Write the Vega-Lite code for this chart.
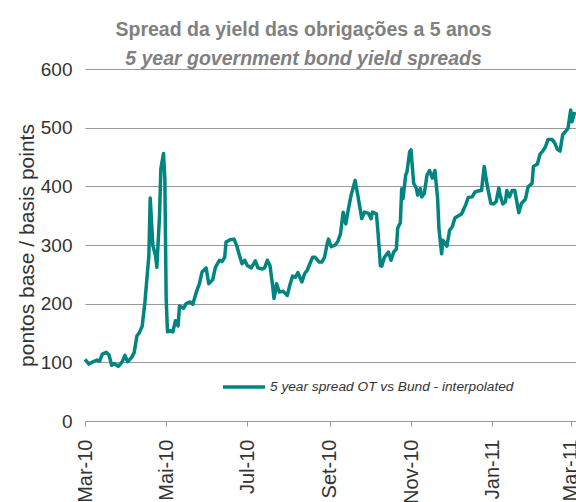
{
  "$schema": "https://vega.github.io/schema/vega-lite/v6.json",
  "width": 491,
  "height": 352,
  "autosize": {"type": "none"},
  "padding": {"left": 85, "top": 69, "right": 0, "bottom": 81},
  "background": "white",
  "title": {
    "text": "Spread da yield das obrigações a 5 anos",
    "subtitle": "5 year government bond yield spreads",
    "anchor": "middle",
    "frame": "group",
    "dx": -27,
    "offset": -9,
    "font": "Liberation Sans",
    "fontSize": 19.5,
    "fontWeight": "bold",
    "color": "#808080",
    "subtitleFont": "Liberation Sans",
    "subtitleFontSize": 19.5,
    "subtitleFontWeight": "bold",
    "subtitleFontStyle": "italic",
    "subtitleColor": "#808080",
    "subtitlePadding": 9
  },
  "data": {
    "values": [
      {"date": "2010-03-01", "bp": 105}, {"date": "2010-03-04", "bp": 97}, {"date": "2010-03-07", "bp": 101},
      {"date": "2010-03-10", "bp": 104}, {"date": "2010-03-12", "bp": 102}, {"date": "2010-03-14", "bp": 114},
      {"date": "2010-03-17", "bp": 117}, {"date": "2010-03-19", "bp": 113}, {"date": "2010-03-21", "bp": 95},
      {"date": "2010-03-23", "bp": 98}, {"date": "2010-03-26", "bp": 93}, {"date": "2010-03-29", "bp": 101},
      {"date": "2010-03-31", "bp": 112}, {"date": "2010-04-02", "bp": 101}, {"date": "2010-04-05", "bp": 108},
      {"date": "2010-04-07", "bp": 117}, {"date": "2010-04-09", "bp": 145}, {"date": "2010-04-11", "bp": 151},
      {"date": "2010-04-13", "bp": 162}, {"date": "2010-04-15", "bp": 202}, {"date": "2010-04-18", "bp": 282},
      {"date": "2010-04-19", "bp": 380}, {"date": "2010-04-21", "bp": 299}, {"date": "2010-04-23", "bp": 282},
      {"date": "2010-04-24", "bp": 262}, {"date": "2010-04-26", "bp": 350}, {"date": "2010-04-27", "bp": 430},
      {"date": "2010-04-29", "bp": 456}, {"date": "2010-04-30", "bp": 413}, {"date": "2010-05-01", "bp": 208},
      {"date": "2010-05-02", "bp": 152}, {"date": "2010-05-04", "bp": 154}, {"date": "2010-05-06", "bp": 152},
      {"date": "2010-05-08", "bp": 171}, {"date": "2010-05-10", "bp": 162}, {"date": "2010-05-11", "bp": 196},
      {"date": "2010-05-14", "bp": 192}, {"date": "2010-05-16", "bp": 200}, {"date": "2010-05-19", "bp": 203},
      {"date": "2010-05-21", "bp": 199}, {"date": "2010-05-24", "bp": 222}, {"date": "2010-05-26", "bp": 234},
      {"date": "2010-05-28", "bp": 254}, {"date": "2010-05-31", "bp": 261}, {"date": "2010-06-02", "bp": 234},
      {"date": "2010-06-05", "bp": 241}, {"date": "2010-06-07", "bp": 262}, {"date": "2010-06-10", "bp": 274},
      {"date": "2010-06-12", "bp": 272}, {"date": "2010-06-14", "bp": 279}, {"date": "2010-06-15", "bp": 305},
      {"date": "2010-06-18", "bp": 309}, {"date": "2010-06-21", "bp": 310}, {"date": "2010-06-23", "bp": 299},
      {"date": "2010-06-25", "bp": 283}, {"date": "2010-06-27", "bp": 268}, {"date": "2010-06-29", "bp": 274},
      {"date": "2010-07-01", "bp": 265}, {"date": "2010-07-04", "bp": 261}, {"date": "2010-07-07", "bp": 273},
      {"date": "2010-07-09", "bp": 261}, {"date": "2010-07-12", "bp": 259}, {"date": "2010-07-14", "bp": 261},
      {"date": "2010-07-16", "bp": 274}, {"date": "2010-07-18", "bp": 265}, {"date": "2010-07-20", "bp": 231},
      {"date": "2010-07-21", "bp": 209}, {"date": "2010-07-22", "bp": 220}, {"date": "2010-07-23", "bp": 234},
      {"date": "2010-07-25", "bp": 220}, {"date": "2010-07-28", "bp": 221}, {"date": "2010-07-31", "bp": 214},
      {"date": "2010-08-02", "bp": 232}, {"date": "2010-08-04", "bp": 247}, {"date": "2010-08-06", "bp": 245},
      {"date": "2010-08-08", "bp": 253}, {"date": "2010-08-11", "bp": 237}, {"date": "2010-08-13", "bp": 251},
      {"date": "2010-08-15", "bp": 257}, {"date": "2010-08-17", "bp": 268}, {"date": "2010-08-19", "bp": 279},
      {"date": "2010-08-21", "bp": 279}, {"date": "2010-08-24", "bp": 271}, {"date": "2010-08-26", "bp": 271},
      {"date": "2010-08-28", "bp": 279}, {"date": "2010-08-30", "bp": 302}, {"date": "2010-08-31", "bp": 310},
      {"date": "2010-09-02", "bp": 297}, {"date": "2010-09-05", "bp": 300}, {"date": "2010-09-07", "bp": 306},
      {"date": "2010-09-09", "bp": 319}, {"date": "2010-09-11", "bp": 356}, {"date": "2010-09-13", "bp": 336},
      {"date": "2010-09-15", "bp": 362}, {"date": "2010-09-17", "bp": 385}, {"date": "2010-09-20", "bp": 410},
      {"date": "2010-09-22", "bp": 385}, {"date": "2010-09-25", "bp": 345}, {"date": "2010-09-27", "bp": 356},
      {"date": "2010-09-30", "bp": 354}, {"date": "2010-10-02", "bp": 345}, {"date": "2010-10-03", "bp": 356},
      {"date": "2010-10-06", "bp": 353}, {"date": "2010-10-07", "bp": 327}, {"date": "2010-10-09", "bp": 265},
      {"date": "2010-10-10", "bp": 264}, {"date": "2010-10-12", "bp": 279}, {"date": "2010-10-15", "bp": 288},
      {"date": "2010-10-17", "bp": 274}, {"date": "2010-10-19", "bp": 288}, {"date": "2010-10-21", "bp": 293},
      {"date": "2010-10-22", "bp": 329}, {"date": "2010-10-24", "bp": 338}, {"date": "2010-10-25", "bp": 396},
      {"date": "2010-10-26", "bp": 379}, {"date": "2010-10-28", "bp": 419}, {"date": "2010-10-29", "bp": 425},
      {"date": "2010-10-31", "bp": 459}, {"date": "2010-11-01", "bp": 462}, {"date": "2010-11-03", "bp": 405},
      {"date": "2010-11-05", "bp": 397}, {"date": "2010-11-06", "bp": 385}, {"date": "2010-11-08", "bp": 396},
      {"date": "2010-11-09", "bp": 382}, {"date": "2010-11-11", "bp": 388}, {"date": "2010-11-13", "bp": 419},
      {"date": "2010-11-15", "bp": 427}, {"date": "2010-11-17", "bp": 414}, {"date": "2010-11-19", "bp": 427},
      {"date": "2010-11-21", "bp": 379}, {"date": "2010-11-22", "bp": 328}, {"date": "2010-11-24", "bp": 285},
      {"date": "2010-11-25", "bp": 308}, {"date": "2010-11-28", "bp": 298}, {"date": "2010-11-30", "bp": 325},
      {"date": "2010-12-02", "bp": 331}, {"date": "2010-12-04", "bp": 346}, {"date": "2010-12-06", "bp": 349},
      {"date": "2010-12-09", "bp": 353}, {"date": "2010-12-11", "bp": 363}, {"date": "2010-12-12", "bp": 368},
      {"date": "2010-12-14", "bp": 381}, {"date": "2010-12-17", "bp": 382}, {"date": "2010-12-19", "bp": 390},
      {"date": "2010-12-21", "bp": 392}, {"date": "2010-12-24", "bp": 393}, {"date": "2010-12-26", "bp": 434},
      {"date": "2010-12-28", "bp": 405}, {"date": "2010-12-29", "bp": 393}, {"date": "2010-12-31", "bp": 371},
      {"date": "2011-01-02", "bp": 370}, {"date": "2011-01-04", "bp": 374}, {"date": "2011-01-06", "bp": 397},
      {"date": "2011-01-07", "bp": 385}, {"date": "2011-01-09", "bp": 370}, {"date": "2011-01-11", "bp": 374},
      {"date": "2011-01-12", "bp": 393}, {"date": "2011-01-14", "bp": 382}, {"date": "2011-01-16", "bp": 393},
      {"date": "2011-01-18", "bp": 393}, {"date": "2011-01-20", "bp": 368}, {"date": "2011-01-21", "bp": 355},
      {"date": "2011-01-23", "bp": 371}, {"date": "2011-01-26", "bp": 378}, {"date": "2011-01-28", "bp": 399},
      {"date": "2011-01-31", "bp": 405}, {"date": "2011-02-01", "bp": 434}, {"date": "2011-02-04", "bp": 438},
      {"date": "2011-02-06", "bp": 455}, {"date": "2011-02-08", "bp": 460}, {"date": "2011-02-10", "bp": 467},
      {"date": "2011-02-12", "bp": 480}, {"date": "2011-02-15", "bp": 480}, {"date": "2011-02-17", "bp": 474},
      {"date": "2011-02-19", "bp": 463}, {"date": "2011-02-21", "bp": 460}, {"date": "2011-02-23", "bp": 488},
      {"date": "2011-02-25", "bp": 493}, {"date": "2011-02-27", "bp": 499}, {"date": "2011-03-01", "bp": 530},
      {"date": "2011-03-02", "bp": 510}, {"date": "2011-03-04", "bp": 527}
    ]
  },
  "mark": {"type": "line", "strokeWidth": 3.5, "strokeJoin": "round"},
  "encoding": {
    "x": {
      "field": "date",
      "type": "temporal",
      "scale": {
        "type": "utc",
        "domain": [
          {"year": 2010, "month": 3, "date": 1, "utc": true},
          {"year": 2011, "month": 3, "date": 5, "utc": true}
        ]
      },
      "axis": {
        "title": null,
        "grid": false,
        "values": [
          {"year": 2010, "month": 3, "date": 1, "utc": true},
          {"year": 2010, "month": 5, "date": 1, "utc": true},
          {"year": 2010, "month": 7, "date": 1, "utc": true},
          {"year": 2010, "month": 9, "date": 1, "utc": true},
          {"year": 2010, "month": 11, "date": 1, "utc": true},
          {"year": 2011, "month": 1, "date": 1, "utc": true},
          {"year": 2011, "month": 3, "date": 1, "utc": true}
        ],
        "labelExpr": "['Jan','Fev','Mar','Abr','Mai','Jun','Jul','Ago','Set','Out','Nov','Dez'][utcmonth(datum.value)] + '-' + utcFormat(datum.value, '%y')",
        "labelAngle": -90,
        "labelFont": "Liberation Sans",
        "labelFontSize": 20,
        "labelColor": "#333333",
        "labelPadding": 13,
        "labelFlush": false,
        "labelOverlap": false,
        "tickColor": "#999999",
        "tickSize": 5,
        "domainColor": "#999999",
        "domainWidth": 1.2
      }
    },
    "y": {
      "field": "bp",
      "type": "quantitative",
      "scale": {"domain": [0, 600], "nice": false},
      "axis": {
        "title": "pontos base / basis points",
        "titleFont": "Liberation Sans",
        "titleFontSize": 21,
        "titleFontWeight": "normal",
        "titleColor": "#333333",
        "titlePadding": 3,
        "values": [0, 100, 200, 300, 400, 500, 600],
        "labelFont": "Liberation Sans",
        "labelFontSize": 19,
        "labelColor": "#333333",
        "labelPadding": 13,
        "ticks": false,
        "domain": false,
        "gridColor": "#999999",
        "gridWidth": 1.2
      }
    },
    "color": {
      "datum": "5 year spread OT vs Bund - interpolated",
      "scale": {"range": ["#008580"]},
      "legend": {
        "title": null,
        "orient": "none",
        "legendX": 136,
        "legendY": 295,
        "padding": 0,
        "symbolType": "stroke",
        "symbolSize": 1764,
        "symbolStrokeWidth": 3.5,
        "labelFont": "Liberation Sans",
        "labelFontStyle": "italic",
        "labelFontSize": 13.7,
        "labelLimit": 0,
        "labelColor": "#333333",
        "labelOffset": 3
      }
    }
  },
  "config": {"view": {"stroke": null}}
}
